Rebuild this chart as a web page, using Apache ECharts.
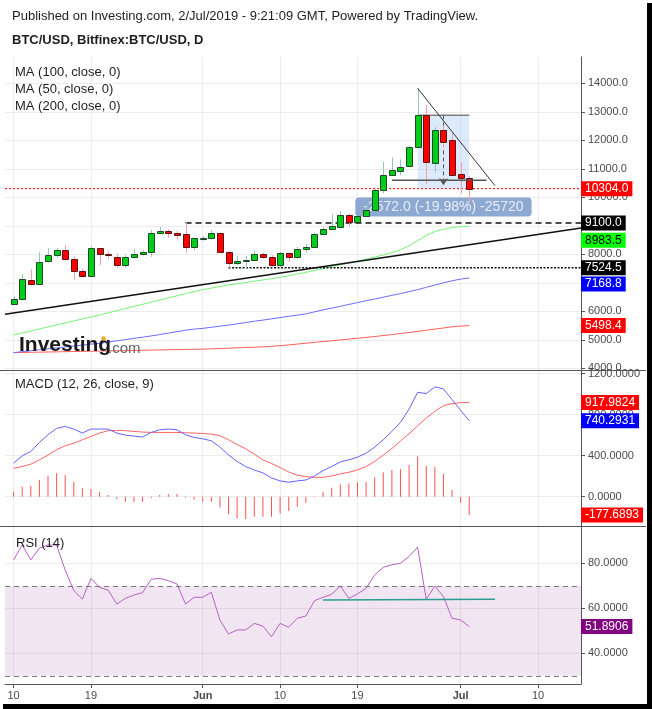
<!DOCTYPE html>
<html><head><meta charset="utf-8">
<script src="https://cdn.jsdelivr.net/npm/echarts@6/dist/echarts.min.js"></script>
<style>html,body{margin:0;padding:0;background:#fff;}#c{width:652px;height:709px;}</style>
</head><body><div id="c"></div>
<script>
const FONT = "'Liberation Sans', Arial, Helvetica, sans-serif";

// x-axis categories (daily)
const axisDates = ['05-09','05-10','05-11','05-12','05-13','05-14','05-15','05-16','05-17','05-18','05-19','05-20','05-21','05-22','05-23','05-24','05-25','05-26','05-27','05-28','05-29','05-30','05-31',
'06-01','06-02','06-03','06-04','06-05','06-06','06-07','06-08','06-09','06-10','06-11','06-12','06-13','06-14','06-15','06-16','06-17','06-18','06-19','06-20','06-21','06-22','06-23','06-24','06-25','06-26','06-27','06-28','06-29','06-30',
'07-01','07-02','07-03','07-04','07-05','07-06','07-07','07-08','07-09','07-10','07-11','07-12','07-13','07-14','07-15'];
const tickDates  = ['05-10','05-19','06-01','06-10','06-19','07-01','07-10'];
const tickLabels = ['10','19','Jun','10','19','Jul','10'];
const monthTicks = ['Jun','Jul'];

// BTC/USD daily candles, 10 May .. 2 Jul 2019
const openP  = [6259,6436,7109,6967,7758,7959,8136,7852,7428,7251,8206,8006,7923,7640,7888,7994,8065,8737,8808,8749,8702,8265,8549,8560,8737,8088,7711,7782,7817,7994,7923,7640,8029,7923,8183,8242,8702,8891,8971,9380,9135,9333,9567,10246,10784,10912,11099,11766,12876,11193,12351,12000,10807,10667];
const closeP = [6436,7144,6967,7746,7959,8136,7852,7428,7251,8206,7994,7959,7640,7888,7994,8065,8737,8808,8737,8690,8265,8560,8572,8737,8088,7711,7782,7817,7994,7911,7640,8029,7923,8183,8254,8702,8891,8997,9368,9135,9333,9567,10246,10784,10947,11064,11766,12876,11228,12351,11930,10784,10667,10304.0];
const highP  = [6519,7298,7475,8077,8218,8230,8324,7935,7498,8289,8230,8112,8029,7970,8183,8147,8855,8962,8879,8820,9110,8584,8643,8855,8761,8112,7935,7935,8147,8065,7970,8088,8065,8265,8360,8761,8950,9422,9520,9420,9345,9766,10300,11240,11392,11333,11801,13825,13240,12456,12515,12246,11228,10750];
const lowP   = [6224,6400,6908,6932,7711,7876,7770,7097,7227,7240,7628,7841,7522,7522,7852,7959,7911,8702,8584,8525,8053,8147,8478,8525,8080,7530,7616,7498,7793,7852,7522,7557,7734,7852,8065,8206,8678,8855,8950,8971,9120,9320,9540,10140,10760,10772,11080,11750,10456,10877,11720,10770,10140,9790];

// moving averages
const ma50  = [5170,5240,5310,5380,5450,5520,5590,5660,5730,5800,5870,5945,6020,6095,6170,6245,6320,6395,6470,6545,6620,6690,6760,6815,6870,6925,6965,7010,7055,7100,7145,7195,7250,7310,7370,7430,7500,7570,7630,7695,7760,7830,7900,7975,8060,8160,8300,8480,8660,8800,8880,8935,8970,8983.5];
const ma100 = [4550,4583,4616,4649,4682,4715,4748,4781,4814,4847,4877,4920,4963,5006,5049,5092,5135,5185,5235,5285,5335,5375,5400,5440,5480,5515,5560,5605,5650,5690,5735,5780,5825,5865,5910,5980,6050,6110,6175,6240,6305,6370,6430,6495,6560,6620,6690,6760,6840,6920,7000,7070,7130,7168.8];
const ma200 = [4550,4555,4561,4566,4572,4577,4583,4588,4594,4600,4605,4611,4616,4622,4627,4633,4638,4644,4650,4655,4661,4666,4672,4682,4694,4705,4717,4729,4740,4752,4770,4795,4820,4850,4880,4910,4940,4965,4995,5025,5055,5085,5115,5150,5185,5220,5255,5295,5335,5375,5415,5455,5480,5498.4];

// MACD (12, 26, close, 9)
const macdLine = [327,398,440,528,603,665,685,659,620,659,659,659,620,600,590,581,626,652,659,652,603,577,564,545,483,408,343,294,261,232,183,154,141,154,163,202,255,294,339,359,385,424,483,555,636,724,854,1017,1004,1070,1050,946,841,740.2931];
const signalLine = [277,294,317,359,405,457,496,522,555,587,620,643,646,643,636,630,626,626,626,626,623,620,616,610,594,555,509,467,414,359,324,284,242,209,196,189,189,202,222,238,261,294,343,405,470,541,613,691,766,832,887,907,916,917.9824];
const macdHist = [49,98,104,163,202,228,212,147,82,75,46,16,-23,-49,-49,-49,-16,16,26,26,-10,-26,-49,-49,-104,-170,-212,-218,-196,-196,-196,-163,-140,-98,-59,-5,49,88,121,130,140,147,189,235,261,271,310,391,300,293,222,65,-59,-177.6893];

// RSI (14)
const rsi = [81.5,88.1,81.5,86.7,88.1,88.1,77.0,67.9,64.1,73.3,69.3,68.1,61.9,64.4,65.9,67.0,72.9,73.3,72.3,70.8,61.9,64.9,64.9,67.1,54.8,48.6,50.4,50.4,53.3,52.1,47.4,53.3,51.6,55.6,56.6,63.4,64.9,66.2,69.9,64.4,66.4,68.9,74.8,78.2,79.3,80.0,83.0,87.1,64.0,69.9,65.2,55.6,54.8,51.8906];

// drawings (x = category index on the date axis, y = price / RSI value)
const trendLine   = [[0, 5898], [67, 8923]];
const resistance  = [['05-30', 9100.0], ['07-15', 9100.0]];
const support     = [['06-04', 7524.5], ['07-15', 7524.5]];
const triangleTop = [[48, 13825], [56.8, 10407]];
const triangleLow = [[44.9, 10600], [55.8, 10600]];
const rangeTop = 12876, rangeStart = 48, rangeEnd = 54, rangeArrowX = 50.8;
const rsiLevel    = [[37, 63.7], [57, 64.0]];

const candleDates = axisDates.slice(1, 1 + closeP.length);
const lastClose = closeP[closeP.length - 1];
const pick = arr => arr.map((v, i) => [candleDates[i], v]);

const chart = echarts.init(document.getElementById('c'));
const CLEAR = 'rgba(0,0,0,0)';

function tag(value, bg, fg, digits, shift) {
  return {
    yAxis: value,
    lineStyle: { color: CLEAR, width: 0 },
    label: { show: true, position: 'end', distance: 0, offset: [0, shift || 0], formatter: value.toFixed(digits),
      backgroundColor: bg, color: fg, padding: [2, 4, 1, 4], fontSize: 12, fontFamily: FONT }
  };
}
function tagLine(value, bg, fg, digits, shift) {
  return { silent: true, symbol: 'none', animation: false, data: [tag(value, bg, fg, digits, shift)] };
}

const showTick = (i, v) => tickDates.indexOf(v) >= 0;
function xAxisCfg(gi, showLabels) {
  return {
    type: 'category', gridIndex: gi, data: axisDates, boundaryGap: false,
    axisLine: { show: showLabels, lineStyle: { color: '#555', width: 1 } },
    axisTick: { show: showLabels, interval: showTick, length: 4, lineStyle: { color: '#555' } },
    axisLabel: { show: showLabels, interval: showTick, margin: 6, fontSize: 11, color: '#4a4a4a', fontFamily: FONT,
      formatter: v => { const t = tickLabels[tickDates.indexOf(v)]; return monthTicks.indexOf(t) >= 0 ? '{b|' + t + '}' : t; },
      rich: { b: { fontWeight: 'bold', fontSize: 11, color: '#4a4a4a', fontFamily: FONT } } },
    splitLine: { show: true, interval: showTick, lineStyle: { color: '#ececec', width: 1 } }
  };
}
function yAxisCfg(gi, min, max, ticks, digits) {
  return {
    type: 'value', gridIndex: gi, position: 'right', min: min, max: max,
    axisLine: { show: true, lineStyle: { color: '#555' } },
    axisTick: { show: true, length: 4, customValues: ticks, lineStyle: { color: '#555' } },
    axisLabel: { customValues: ticks, margin: 7, fontSize: 11, color: '#4a4a4a', fontFamily: FONT,
      formatter: v => Number(v).toFixed(digits) },
    splitLine: { show: true, lineStyle: { color: '#ececec', width: 1 } }
  };
}

const pd = rangeTop - lastClose;
const rangeText = '-' + pd.toFixed(1) + ' (-' + (pd / rangeTop * 100).toFixed(2) + '%) -' + Math.round(pd * 10);

const lineS = (data, color, width, type, z, extra) => Object.assign({
  type: 'line', xAxisIndex: 0, yAxisIndex: 0, data: data, showSymbol: false, symbol: 'none',
  lineStyle: { color: color, width: width, type: type || 'solid' }, z: z || 4, silent: true, animation: false
}, extra || {});

chart.setOption({
  animation: false,
  grid: [
    { left: 5, right: 71, top: 57, height: 313 },
    { left: 5, right: 71, top: 370, height: 156 },
    { left: 5, right: 71, top: 527, height: 157 }
  ],
  xAxis: [xAxisCfg(0, false), xAxisCfg(1, false), xAxisCfg(2, true)],
  yAxis: [
    yAxisCfg(0, 3940, 14924, [4000,5000,6000,7000,8000,9000,10000,11000,12000,13000,14000], 1),
    yAxisCfg(1, -285, 1234, [0,400,800,1200], 4),
    yAxisCfg(2, 26.4, 96.1, [40,60,80], 4)
  ],
  series: [
    // measurement range box (behind candles)
    lineS([[rangeStart, rangeTop], [rangeEnd, rangeTop]], '#7d7d7d', 1.5, 'solid', 2, {
      markArea: { silent: true, itemStyle: { color: 'rgba(120,170,240,0.25)' },
        data: [[{ coord: [rangeStart, rangeTop] }, { coord: [rangeEnd, lastClose] }]] },
      markLine: { silent: true, symbol: ['none', 'arrow'], symbolSize: [7, 7],
        lineStyle: { color: '#555', type: [4, 3], width: 1 }, label: { show: false },
        data: [[{ coord: [rangeArrowX, rangeTop] }, { coord: [rangeArrowX, lastClose + 120] }]] }
    }),
    { type: 'scatter', xAxisIndex: 0, yAxisIndex: 0, z: 3, silent: true, symbolSize: 0,
      itemStyle: { color: CLEAR }, data: [[rangeArrowX + 0.1, 9660]],
      label: { show: true, position: 'inside', formatter: rangeText, color: '#fff', fontSize: 14, fontFamily: FONT,
        backgroundColor: '#7094c6', borderRadius: 4, padding: [3, 8, 2, 8] } },
    // moving averages
    lineS(pick(ma200), '#ff5b5b', 1, 'solid', 3, { markLine: tagLine(ma200[ma200.length - 1], '#ff0000', '#fff', 1) }),
    lineS(pick(ma100), '#6b6bff', 1, 'solid', 3, { markLine: tagLine(ma100[ma100.length - 1], '#0000ff', '#fff', 1, 6) }),
    lineS(pick(ma50), '#74f274', 1, 'solid', 3, { markLine: tagLine(ma50[ma50.length - 1], '#00ff00', '#000', 1, 14) }),
    // drawings
    lineS(trendLine, '#111', 1.5, 'solid', 4),
    lineS(resistance, '#111', 1.5, [6, 4], 4, { markLine: tagLine(resistance[0][1], '#000', '#fff', 1) }),
    lineS(support, '#111', 1.5, [2, 1.5], 4, { markLine: tagLine(support[0][1], '#000', '#fff', 1) }),
    lineS([[axisDates[0], lastClose], [axisDates[axisDates.length - 1], lastClose]], '#ff0000', 1, [2, 2], 4,
      { markLine: tagLine(lastClose, '#ff0000', '#fff', 1) }),
    // candles
    {
      type: 'custom', xAxisIndex: 0, yAxisIndex: 0, z: 5, silent: true,
      data: candleDates.map((d, i) => [d, openP[i], closeP[i], lowP[i], highP[i]]),
      encode: { x: 0, y: [1, 2, 3, 4] },
      renderItem: function (params, api) {
        const x = api.value(0);
        const o = api.value(1), c = api.value(2), l = api.value(3), h = api.value(4);
        const pO = api.coord([x, o]), pC = api.coord([x, c]);
        const pL = api.coord([x, l]), pH = api.coord([x, h]);
        const up = c >= o;
        const cx = Math.round(pO[0]) + 0.5;
        const top = Math.round(Math.min(pO[1], pC[1])) + 0.5;
        const bot = Math.round(Math.max(pO[1], pC[1])) + 0.5;
        const bw = 6;
        return { type: 'group', children: [
          { type: 'line', shape: { x1: cx, y1: pH[1], x2: cx, y2: pL[1] },
            style: { stroke: up ? '#93c2c9' : '#f3a0a9', lineWidth: 1 } },
          { type: 'rect', shape: { x: cx - bw / 2, y: top, width: bw, height: Math.max(bot - top, 1) },
            style: { fill: up ? '#00cc1a' : '#ff0000', stroke: up ? '#1f4a24' : '#5a1414', lineWidth: 1 } }
        ] };
      }
    },
    lineS(triangleTop, '#333', 1, 'solid', 6),
    lineS(triangleLow, '#555', 1.5, 'solid', 6),
    // MACD
    { type: 'bar', xAxisIndex: 1, yAxisIndex: 1, data: pick(macdHist), barWidth: 1, silent: true,
      itemStyle: { color: '#ff5252' }, z: 2,
      markLine: tagLine(macdHist[macdHist.length - 1], '#ff0000', '#fff', 4) },
    { type: 'line', xAxisIndex: 1, yAxisIndex: 1, data: pick(signalLine), showSymbol: false, symbol: 'none', silent: true,
      lineStyle: { color: '#ff6262', width: 1 }, z: 3,
      markLine: tagLine(signalLine[signalLine.length - 1], '#ff0000', '#fff', 4) },
    { type: 'line', xAxisIndex: 1, yAxisIndex: 1, data: pick(macdLine), showSymbol: false, symbol: 'none', silent: true,
      lineStyle: { color: '#6262ff', width: 1 }, z: 4,
      markLine: tagLine(macdLine[macdLine.length - 1], '#0000ff', '#fff', 4) },
    // RSI
    { type: 'line', xAxisIndex: 2, yAxisIndex: 2, data: pick(rsi), showSymbol: false, symbol: 'none', silent: true,
      lineStyle: { color: '#b75fc5', width: 1 }, z: 3,
      markArea: { silent: true, itemStyle: { color: 'rgba(128,0,128,0.1)' }, data: [[{ yAxis: 30 }, { yAxis: 70 }]] },
      markLine: { silent: true, symbol: 'none', data: [
        { yAxis: 70, lineStyle: { color: '#7a7a7a', type: [5, 4], width: 1 }, label: { show: false } },
        { yAxis: 30, lineStyle: { color: '#7a7a7a', type: [5, 4], width: 1 }, label: { show: false } },
        tag(rsi[rsi.length - 1], '#800080', '#fff', 4)
      ] } },
    { type: 'line', xAxisIndex: 2, yAxisIndex: 2, data: rsiLevel, showSymbol: false, symbol: 'none', silent: true,
      lineStyle: { color: '#2a9d90', width: 1.5 }, z: 4 }
  ],
  graphic: [
    { type: 'text', left: 12, top: 10, z: 100, style: { text: 'Published on Investing.com, 2/Jul/2019 - 9:21:09 GMT, Powered by TradingView.', font: '13px ' + FONT, fill: '#1e1e1e' } },
    { type: 'text', left: 12, top: 34, z: 100, style: { text: 'BTC/USD, Bitfinex:BTC/USD, D', font: 'bold 13px ' + FONT, fill: '#1e1e1e' } },
    { type: 'text', left: 15, top: 66, z: 100, style: { text: 'MA (100, close, 0)', font: '13px ' + FONT, fill: '#1e1e1e' } },
    { type: 'text', left: 15, top: 83, z: 100, style: { text: 'MA (50, close, 0)', font: '13px ' + FONT, fill: '#1e1e1e' } },
    { type: 'text', left: 15, top: 100, z: 100, style: { text: 'MA (200, close, 0)', font: '13px ' + FONT, fill: '#1e1e1e' } },
    { type: 'text', left: 15, top: 378, z: 100, style: { text: 'MACD (12, 26, close, 9)', font: '13px ' + FONT, fill: '#1e1e1e' } },
    { type: 'text', left: 16, top: 537, z: 100, style: { text: 'RSI (14)', font: '13px ' + FONT, fill: '#1e1e1e' } },
    { type: 'text', left: 19, top: 335, z: 100, style: { text: 'Investing', font: 'bold 21px ' + FONT, fill: '#1a1a1a' } },
    { type: 'text', left: 108, top: 341, z: 100, style: { text: '.com', font: '15px ' + FONT, fill: '#666' } },
    { type: 'circle', z: 101, shape: { cx: 103.5, cy: 338.5, r: 2.2 }, style: { fill: '#f5a623' } },
    { type: 'line', z: 100, shape: { x1: 0, y1: 370.5, x2: 646, y2: 370.5 }, style: { stroke: '#555', lineWidth: 1 } },
    { type: 'line', z: 100, shape: { x1: 0, y1: 526.5, x2: 646, y2: 526.5 }, style: { stroke: '#555', lineWidth: 1 } },
    { type: 'rect', z: 100, shape: { x: 647, y: 3, width: 5, height: 706 }, style: { fill: '#000' } },
    { type: 'rect', z: 100, shape: { x: 3, y: 704, width: 649, height: 5 }, style: { fill: '#000' } }
  ]
});
</script>
</body></html>
